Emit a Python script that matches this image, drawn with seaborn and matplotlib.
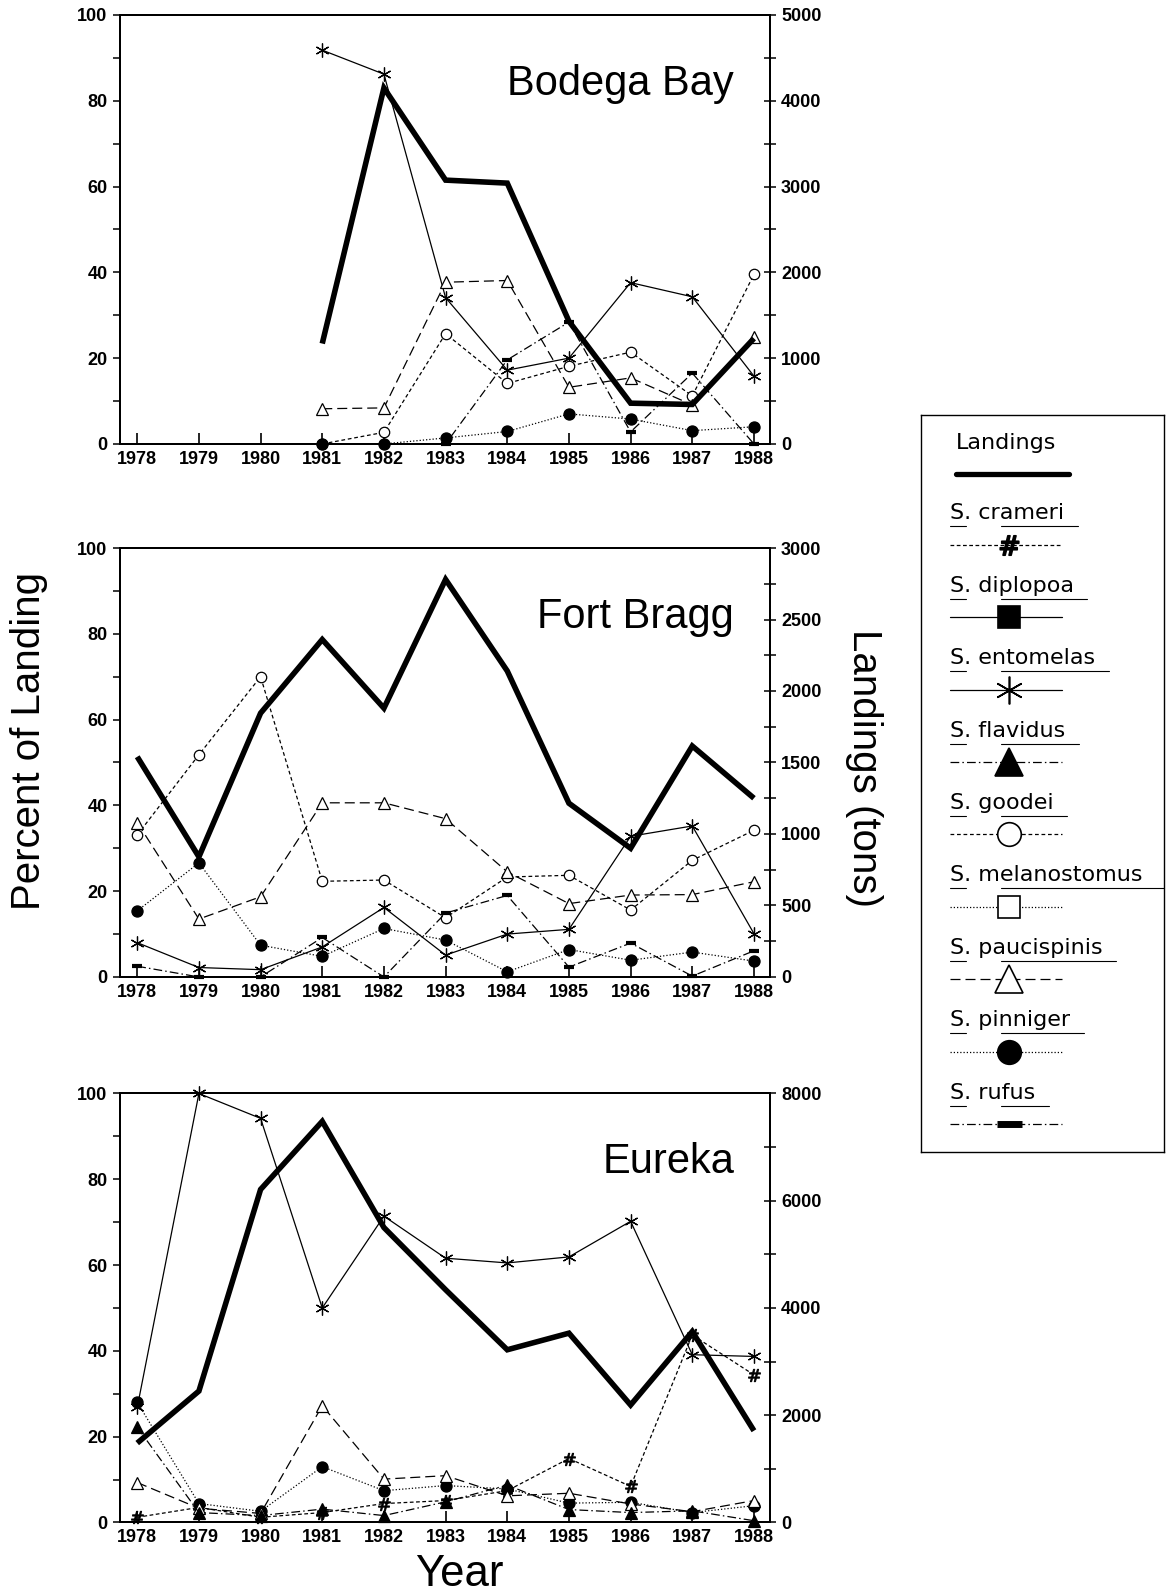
import matplotlib
matplotlib.use("Agg")
import matplotlib.pyplot as plt
from matplotlib import font_manager
import seaborn as sns

sns.set_theme(style="white")
_installed = {f.name for f in font_manager.fontManager.ttflist}
TICK_FONT = "Liberation Sans Narrow" if "Liberation Sans Narrow" in _installed else "Liberation Sans"
LEGEND_FONT = "DejaVu Sans"
plt.rcParams["font.family"] = ["Liberation Sans", "DejaVu Sans"]
plt.rcParams["mathtext.fontset"] = "dejavusans"

# ---------------------------------------------------------------- data
YEARS = list(range(1978, 1989))
YEARS_BODEGA = list(range(1981, 1989))

# Bodega Bay (percent of landing by species, landings in tons)
bodega_landings = [1170, 4150, 3075, 3040, 1430, 475, 460, 1230]
bodega_entomelas = [91.8, 86.2, 34.1, 17.2, 20.0, 37.6, 34.3, 15.8]
bodega_goodei = [0.0, 2.7, 25.7, 14.1, 18.1, 21.4, 11.2, 39.5]
bodega_paucispinis = [8.2, 8.4, 37.7, 38.1, 13.2, 15.4, 9.1, 24.9]
bodega_pinniger = [0.0, 0.0, 1.4, 2.9, 7.0, 5.8, 3.1, 4.0]
bodega_rufus = [0.0, 0.0, 0.0, 19.6, 28.4, 2.8, 16.5, 0.0]

# Fort Bragg
fort_landings = [1540, 840, 1845, 2360, 1880, 2780, 2140, 1215, 900, 1615, 1250]
fort_goodei = [33.1, 51.8, 70.0, 22.3, 22.6, 13.8, 23.3, 23.7, 15.6, 27.2, 34.2]
fort_paucispinis = [36.0, 13.5, 18.7, 40.6, 40.6, 36.9, 24.5, 17.1, 19.1, 19.2, 22.2]
fort_pinniger = [15.4, 26.6, 7.4, 4.8, 11.3, 8.6, 1.2, 6.4, 3.9, 5.8, 3.7]
fort_entomelas = [8.0, 2.2, 1.7, 7.0, 16.2, 5.1, 10.0, 11.1, 32.8, 35.2, 10.1]
fort_rufus = [2.5, 0.0, 0.0, 9.2, 0.0, 14.9, 19.0, 2.3, 7.9, 0.2, 6.1]

# Eureka
eureka_landings = [1480, 2450, 6210, 7480, 5500, 4340, 3220, 3530, 2190, 3560, 1710]
eureka_entomelas = [26.8, 100.0, 94.2, 50.0, 71.4, 61.6, 60.5, 61.9, 70.2, 39.1, 38.7]
eureka_crameri = [1.2, 3.5, 1.2, 2.3, 4.4, 5.1, 7.4, 14.9, 8.4, 43.7, 34.4]
eureka_pinniger = [28.0, 4.4, 2.6, 13.0, 7.4, 8.6, 7.8, 4.5, 4.7, 2.3, 3.9]
eureka_paucispinis = [9.3, 3.3, 2.1, 27.2, 10.1, 10.9, 6.2, 6.8, 4.3, 2.5, 5.1]
eureka_flavidus = [22.2, 2.3, 1.6, 3.1, 1.6, 4.8, 8.7, 3.0, 2.3, 2.7, 0.4]

SPECIES = ["S. crameri", "S. diplopoa", "S. entomelas", "S. flavidus", "S. goodei",
           "S. melanostomus", "S. paucispinis", "S. pinniger", "S. rufus"]

# line / marker style of each species
STYLES = {
    "S. crameri":      dict(ls=(0, (3, 2)), marker=r"$\#$", ms=9, mfc="black", mew=0.6, lms=14),
    "S. diplopoa":     dict(ls="-", marker="s", ms=7, mfc="black", mew=0.9, lms=16),
    "S. entomelas":    dict(ls="-", marker=(6, 2, 0), ms=10, mfc="black", mew=0.9, lms=20),
    "S. flavidus":     dict(ls=(0, (7, 2.5, 1.2, 2.5)), marker="^", ms=8, mfc="black", mew=0.9, lms=20),
    "S. goodei":       dict(ls=(0, (3, 2.2)), marker="o", ms=7.5, mfc="white", mew=0.9, lms=17),
    "S. melanostomus": dict(ls=(0, (1, 1.6)), marker="s", ms=7, mfc="white", mew=0.9, lms=16),
    "S. paucispinis":  dict(ls=(0, (8, 4)), marker="^", ms=9, mfc="white", mew=0.9, lms=20),
    "S. pinniger":     dict(ls=(0, (1, 1.6)), marker="o", ms=8, mfc="black", mew=0.9, lms=17),
    "S. rufus":        dict(ls=(0, (7, 2.5, 1.2, 2.5)), marker="_", ms=7, mfc="black", mew=3.0, lms=18),
}

PANELS = [
    dict(title="Bodega Bay", years=YEARS_BODEGA, landings=bodega_landings,
         series={"S. entomelas": bodega_entomelas, "S. goodei": bodega_goodei,
                 "S. paucispinis": bodega_paucispinis, "S. pinniger": bodega_pinniger,
                 "S. rufus": bodega_rufus},
         tmax=5000, tmajor=1000, tminor=500, rect=[0.1028, 0.7215, 0.557, 0.2691]),
    dict(title="Fort Bragg", years=YEARS, landings=fort_landings,
         series={"S. goodei": fort_goodei, "S. paucispinis": fort_paucispinis,
                 "S. pinniger": fort_pinniger, "S. entomelas": fort_entomelas,
                 "S. rufus": fort_rufus},
         tmax=3000, tmajor=500, tminor=250, rect=[0.1028, 0.3871, 0.557, 0.2691]),
    dict(title="Eureka", years=YEARS, landings=eureka_landings,
         series={"S. entomelas": eureka_entomelas, "S. crameri": eureka_crameri,
                 "S. pinniger": eureka_pinniger, "S. paucispinis": eureka_paucispinis,
                 "S. flavidus": eureka_flavidus},
         tmax=8000, tmajor=2000, tminor=1000, rect=[0.1028, 0.0449, 0.557, 0.2691]),
]

TICK_KW = dict(fontsize=13, fontweight="bold", family=TICK_FONT)

fig = plt.figure(figsize=(11.67, 15.94), dpi=100)
fig.patch.set_facecolor("white")


def style_spines(ax):
    for s in ax.spines.values():
        s.set_visible(True)
        s.set_color("black")
        s.set_linewidth(1.4)


for p in PANELS:
    ax = fig.add_axes(p["rect"])
    ax.set_facecolor("white")
    ax.set_xlim(1977.72, 1988.26)
    ax.set_ylim(0, 100)

    for name, vals in p["series"].items():
        st = STYLES[name]
        sns.lineplot(x=p["years"], y=vals, ax=ax, color="black", linewidth=0.9,
                     linestyle=st["ls"], marker=st["marker"], markersize=st["ms"],
                     markerfacecolor=st["mfc"], markeredgecolor="black",
                     markeredgewidth=st["mew"], errorbar=None, legend=False,
                     clip_on=False, zorder=3)

    ax.set_xticks(YEARS)
    ax.set_xticklabels([str(y) for y in YEARS], **TICK_KW)
    ax.set_yticks([0, 20, 40, 60, 80, 100])
    ax.set_yticklabels(["0", "20", "40", "60", "80", "100"], **TICK_KW)
    ax.set_yticks(list(range(10, 100, 20)), minor=True)
    ax.tick_params(axis="x", which="major", direction="in", length=8, width=1.2,
                   pad=5, colors="black", top=False, bottom=True)
    ax.tick_params(axis="y", which="both", direction="out", length=5, width=1.1,
                   pad=4, colors="black", left=True, right=False)
    ax.set_xlabel("")
    ax.set_ylabel("")
    ax.grid(False)
    style_spines(ax)

    ax2 = ax.twinx()
    sns.lineplot(x=p["years"], y=p["landings"], ax=ax2, color="black", linewidth=4.0,
                 errorbar=None, legend=False, zorder=4)
    for ln in ax2.get_lines():
        ln.set_solid_joinstyle("miter")
        ln.set_solid_capstyle("butt")
    ax2.set_ylim(0, p["tmax"])
    major = list(range(0, p["tmax"] + 1, p["tmajor"]))
    minor = [v for v in range(0, p["tmax"] + 1, p["tminor"]) if v not in major]
    ax2.set_yticks(major)
    ax2.set_yticklabels([str(v) for v in major], **TICK_KW)
    ax2.set_yticks(minor, minor=True)
    ax2.tick_params(axis="y", which="both", direction="inout", length=8, width=1.1,
                    pad=4, colors="black", right=True, left=False)
    ax2.set_ylabel("")
    ax2.grid(False)
    style_spines(ax2)

    ax.text(0.945, 0.84, p["title"], transform=ax.transAxes, ha="right",
            va="center", fontsize=30, color="black")

fig.text(0.0245, 0.535, "Percent of Landing", rotation=90, fontsize=29,
         ha="center", va="center", color="black")
fig.text(0.740, 0.5185, "Landings (tons)", rotation=270, fontsize=29,
         ha="center", va="center", color="black")
fig.text(0.3937, 0.0125, "Year", fontsize=31.5, ha="center", va="center", color="black")

# ---------------------------------------------------------------- key box
lax = fig.add_axes([0.7892, 0.2773, 0.2082, 0.4624])
lax.set_xlim(0, 243)
lax.set_ylim(737, 0)
lax.set_xticks([])
lax.set_yticks([])
lax.set_facecolor("white")
for s in lax.spines.values():
    s.set_visible(True)
    s.set_color("black")
    s.set_linewidth(1.0)

lax.text(34.6, 28, "Landings", fontsize=16, family=LEGEND_FONT, ha="left",
         va="center", color="black")
lax.plot([34.6, 148.5], [59, 59], color="black", lw=3.8, solid_capstyle="round")

label_texts = []
for i, name in enumerate(SPECIES):
    ty = 98.4 + 72.4 * i
    sy = ty + 31.5
    st = STYLES[name]
    t = lax.text(29.5, ty, name, fontsize=16, family=LEGEND_FONT, ha="left",
                 va="center", color="black")
    label_texts.append((t, ty))
    lax.plot([29.5, 141], [sy, sy], color="black", lw=0.9, linestyle=st["ls"])
    lax.plot([88.5], [sy], linestyle="none", marker=st["marker"], ms=st["lms"],
             mfc=st["mfc"], mec="black", mew=max(st["mew"], 1.2) if st["marker"] != "_" else 5,
             color="black")

renderer = fig.canvas.get_renderer()
inv = lax.transData.inverted()
for t, ty in label_texts:
    bb = t.get_window_extent(renderer)
    x_end = inv.transform((bb.x1, bb.y0))[0]
    uy = ty + 13
    lax.plot([29.5, 45], [uy, uy], color="black", lw=0.8)
    end = 243 if x_end > 200 else x_end + 13
    lax.plot([80, end], [uy, uy], color="black", lw=0.8)

fig.savefig("out.png", dpi=100, facecolor="white")
